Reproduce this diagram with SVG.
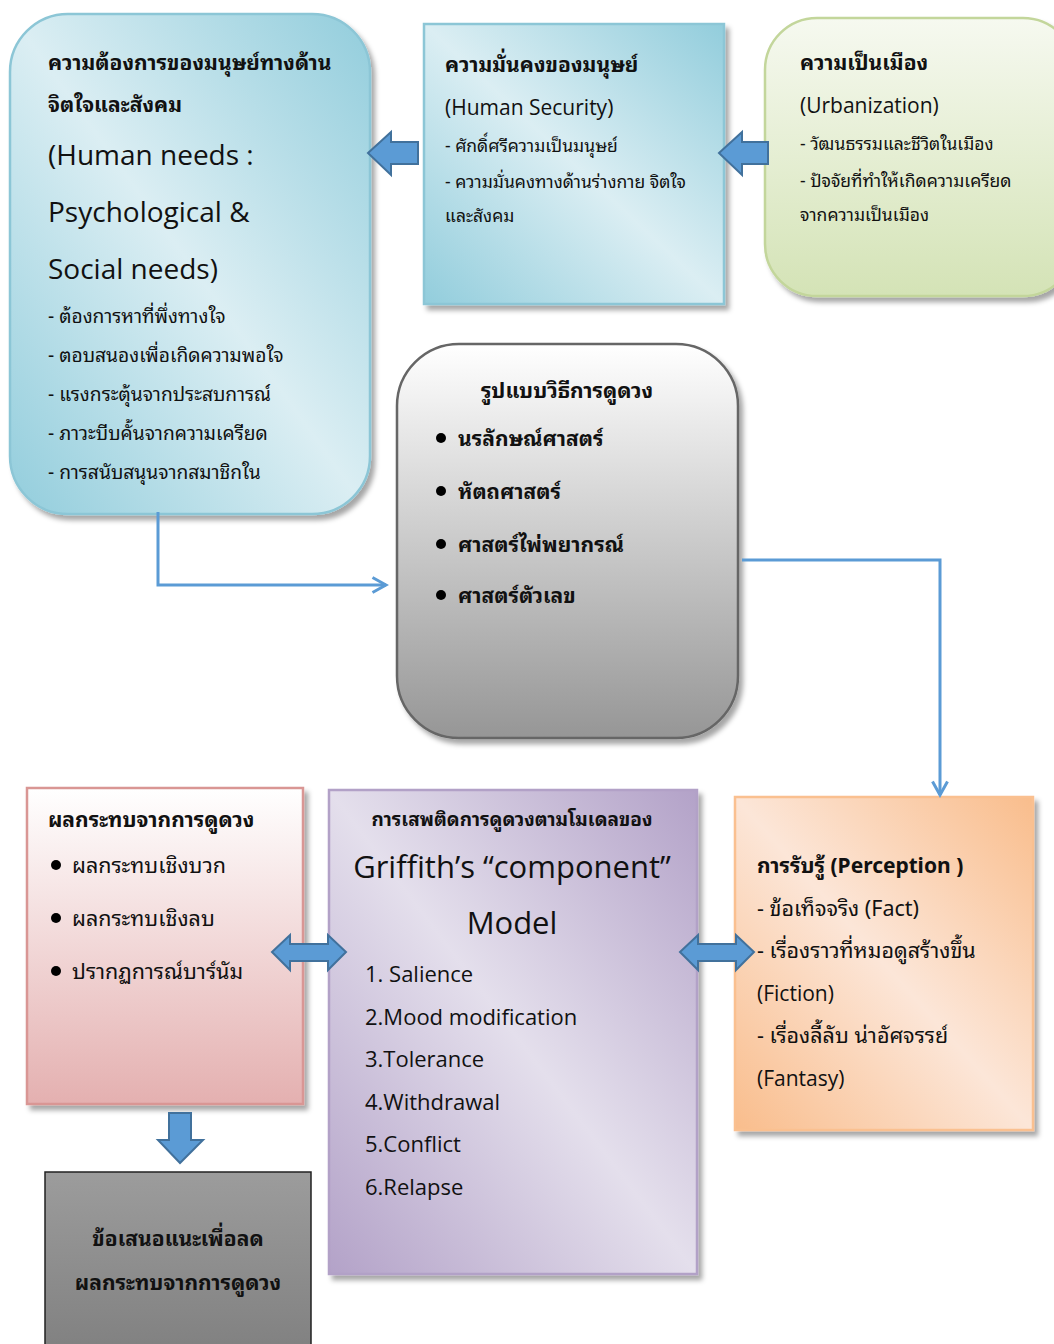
<svg xmlns="http://www.w3.org/2000/svg" width="1054" height="1344" viewBox="0 0 1054 1344">
<defs>
<filter id="sh" x="-10%" y="-10%" width="130%" height="130%">
<feDropShadow dx="4" dy="5" stdDeviation="2.5" flood-color="#000" flood-opacity="0.35"/>
</filter>
<linearGradient id="gBlue" x1="1" y1="0" x2="0" y2="1">
<stop offset="0" stop-color="#92cddc"/>
<stop offset="0.5" stop-color="#dbeef3"/>
<stop offset="1" stop-color="#92cddc"/>
</linearGradient>
<linearGradient id="gGreen" x1="0" y1="0" x2="0" y2="1">
<stop offset="0" stop-color="#f6f9f0"/>
<stop offset="1" stop-color="#d4e3b6"/>
</linearGradient>
<linearGradient id="gGray" x1="0" y1="0" x2="0" y2="1">
<stop offset="0" stop-color="#ffffff"/>
<stop offset="1" stop-color="#969696"/>
</linearGradient>
<linearGradient id="gPink" x1="0" y1="0" x2="0" y2="1">
<stop offset="0" stop-color="#ffffff"/>
<stop offset="1" stop-color="#e4b0b0"/>
</linearGradient>
<linearGradient id="gPurple" x1="1" y1="0" x2="0" y2="1">
<stop offset="0" stop-color="#b3a2c8"/>
<stop offset="0.5" stop-color="#e4dfec"/>
<stop offset="1" stop-color="#b3a2c8"/>
</linearGradient>
<linearGradient id="gOrange" x1="1" y1="0" x2="0" y2="1">
<stop offset="0" stop-color="#f9bd8c"/>
<stop offset="0.5" stop-color="#fce6d8"/>
<stop offset="1" stop-color="#f9bd8c"/>
</linearGradient>
<linearGradient id="gDark" x1="0" y1="0" x2="0" y2="1">
<stop offset="0" stop-color="#9c9c9c"/>
<stop offset="1" stop-color="#7f7f7f"/>
</linearGradient>
<marker id="open" viewBox="0 0 12 12" refX="10" refY="6" markerWidth="6" markerHeight="6" orient="auto" markerUnits="strokeWidth">
<path d="M1,1 L10,6 L1,11" fill="none" stroke="#5b9bd5" stroke-width="2"/>
</marker>
<style>
text{font-family:"Noto Sans Thai Looped","Noto Sans","Noto Sans Thai","DejaVu Sans",sans-serif;fill:#111;}
.b{font-weight:bold;font-size:21px;}
.r{font-size:19.2px;}
.s{font-size:17.5px;}
.e{font-family:"Open Sans","Noto Sans","Noto Sans Thai",sans-serif;font-size:21px;}
.e2{font-family:"Open Sans","Noto Sans","Noto Sans Thai",sans-serif;font-size:22px;}
.big{font-family:"Open Sans","Noto Sans","Noto Sans Thai",sans-serif;font-size:28px;}
.blk{fill:#5b9bd5;stroke:#41719c;stroke-width:2;}
.con{fill:none;stroke:#5b9bd5;stroke-width:3;}
</style>
</defs>

<g id="node-needs">
<rect x="10" y="14" width="360" height="500" rx="58" fill="url(#gBlue)" stroke="#8cc6d6" stroke-width="2.5" filter="url(#sh)"/>
<text class="b" x="48" y="70">ความต้องการของมนุษย์ทางด้าน</text>
<text class="b" x="48" y="112">จิตใจและสังคม</text>
<text class="big" x="48" y="165">(Human needs :</text>
<text class="big" x="48" y="222">Psychological &amp;</text>
<text class="big" x="48" y="279">Social needs)</text>
<text class="r" x="48" y="323">- ต้องการหาที่พึ่งทางใจ</text>
<text class="r" x="48" y="362">- ตอบสนองเพื่อเกิดความพอใจ</text>
<text class="r" x="48" y="401">- แรงกระตุ้นจากประสบการณ์</text>
<text class="r" x="48" y="440">- ภาวะบีบคั้นจากความเครียด</text>
<text class="r" x="48" y="479">- การสนับสนุนจากสมาชิกใน</text>
</g>

<g id="node-security">
<rect x="424" y="24" width="300" height="280" fill="url(#gBlue)" stroke="#8cc6d6" stroke-width="2.5" filter="url(#sh)"/>
<text class="b" x="445" y="72">ความมั่นคงของมนุษย์</text>
<text class="e" x="445" y="115">(Human Security)</text>
<text class="s" x="445" y="152">- ศักดิ์ศรีความเป็นมนุษย์</text>
<text class="s" x="445" y="188">- ความมั่นคงทางด้านร่างกาย จิตใจ</text>
<text class="s" x="445" y="222">และสังคม</text>
</g>

<g id="node-urban">
<rect x="765" y="18" width="310" height="278" rx="52" fill="url(#gGreen)" stroke="#c3d69b" stroke-width="2.5" filter="url(#sh)"/>
<text class="b" x="800" y="70">ความเป็นเมือง</text>
<text class="e" x="800" y="113">(Urbanization)</text>
<text class="s" x="800" y="150">-  วัฒนธรรมและชีวิตในเมือง</text>
<text class="s" x="800" y="187">- ปัจจัยที่ทำให้เกิดความเครียด</text>
<text class="s" x="800" y="221">จากความเป็นเมือง</text>
</g>

<g id="node-methods">
<rect x="397" y="344" width="341" height="394" rx="62" fill="url(#gGray)" stroke="#666" stroke-width="2.5" filter="url(#sh)"/>
<text class="b" x="567" y="398" text-anchor="middle">รูปแบบวิธีการดูดวง</text>
<circle cx="441" cy="438" r="5" fill="#000"/>
<text class="b" x="458" y="446">นรลักษณ์ศาสตร์</text>
<circle cx="441" cy="491" r="5" fill="#000"/>
<text class="b" x="458" y="499">หัตถศาสตร์</text>
<circle cx="441" cy="544" r="5" fill="#000"/>
<text class="b" x="458" y="552">ศาสตร์ไพ่พยากรณ์</text>
<circle cx="441" cy="595" r="5" fill="#000"/>
<text class="b" x="458" y="603">ศาสตร์ตัวเลข</text>
</g>

<g id="node-effects">
<rect x="27" y="788" width="276" height="316" fill="url(#gPink)" stroke="#d99694" stroke-width="2.5" filter="url(#sh)"/>
<text class="b" x="48" y="827">ผลกระทบจากการดูดวง</text>
<circle cx="56" cy="865" r="5" fill="#000"/>
<text class="r" x="72" y="873" style="font-size:21.5px">ผลกระทบเชิงบวก</text>
<circle cx="56" cy="918" r="5" fill="#000"/>
<text class="r" x="72" y="926" style="font-size:21.5px">ผลกระทบเชิงลบ</text>
<circle cx="56" cy="971" r="5" fill="#000"/>
<text class="r" x="72" y="979" style="font-size:21.5px">ปรากฏการณ์บาร์นัม</text>
</g>

<g id="node-griffith">
<rect x="329" y="790" width="368" height="484" fill="url(#gPurple)" stroke="#b2a1c7" stroke-width="2.5" filter="url(#sh)"/>
<text class="b" x="512" y="826" text-anchor="middle" style="font-size:19px">การเสพติดการดูดวงตามโมเดลของ</text>
<text class="big" x="512" y="878" text-anchor="middle" style="font-size:31px">Griffith’s “component”</text>
<text class="big" x="512" y="934" text-anchor="middle" style="font-size:31px">Model</text>
<text class="e2" x="365" y="982">1. Salience</text>
<text class="e2" x="365" y="1025">2.Mood modification</text>
<text class="e2" x="365" y="1067">3.Tolerance</text>
<text class="e2" x="365" y="1110">4.Withdrawal</text>
<text class="e2" x="365" y="1152">5.Conflict</text>
<text class="e2" x="365" y="1195">6.Relapse</text>
</g>

<g id="node-perception">
<rect x="735" y="797" width="298" height="333" fill="url(#gOrange)" stroke="#fac090" stroke-width="2.5" filter="url(#sh)"/>
<text class="b" x="757" y="873">การรับรู้ (Perception )</text>
<text class="r" x="757" y="916" style="font-size:21.5px">- ข้อเท็จจริง (Fact)</text>
<text class="r" x="757" y="958" style="font-size:21.5px">- เรื่องราวที่หมอดูสร้างขึ้น</text>
<text class="e" x="757" y="1001">(Fiction)</text>
<text class="r" x="757" y="1043" style="font-size:21.5px">- เรื่องลี้ลับ น่าอัศจรรย์</text>
<text class="e" x="757" y="1086">(Fantasy)</text>
</g>

<g id="node-suggest">
<rect x="45" y="1172" width="266" height="190" fill="url(#gDark)" stroke="#222" stroke-width="1.5"/>
<text class="b" x="178" y="1246" text-anchor="middle">ข้อเสนอแนะเพื่อลด</text>
<text class="b" x="178" y="1290" text-anchor="middle">ผลกระทบจากการดูดวง</text>
</g>

<g id="connectors">
<path class="con" d="M158,512 V585 H386" marker-end="url(#open)"/>
<path class="con" d="M742,560 H940 V795" marker-end="url(#open)"/>
<polygon class="blk" points="368,153 391,132 391,142 418,142 418,164 391,164 391,175"/>
<polygon class="blk" points="719,153 742,132 742,142 768,142 768,164 742,164 742,175"/>
<polygon class="blk" points="272,952 290,935 290,944 328,944 328,935 346,952 328,970 328,961 290,961 290,970"/>
<polygon class="blk" points="680,952 698,935 698,944 736,944 736,935 754,952 736,970 736,961 698,961 698,970"/>
<polygon class="blk" points="169,1113 191,1113 191,1140 203,1140 180,1163 158,1140 169,1140"/>
</g>
</svg>
